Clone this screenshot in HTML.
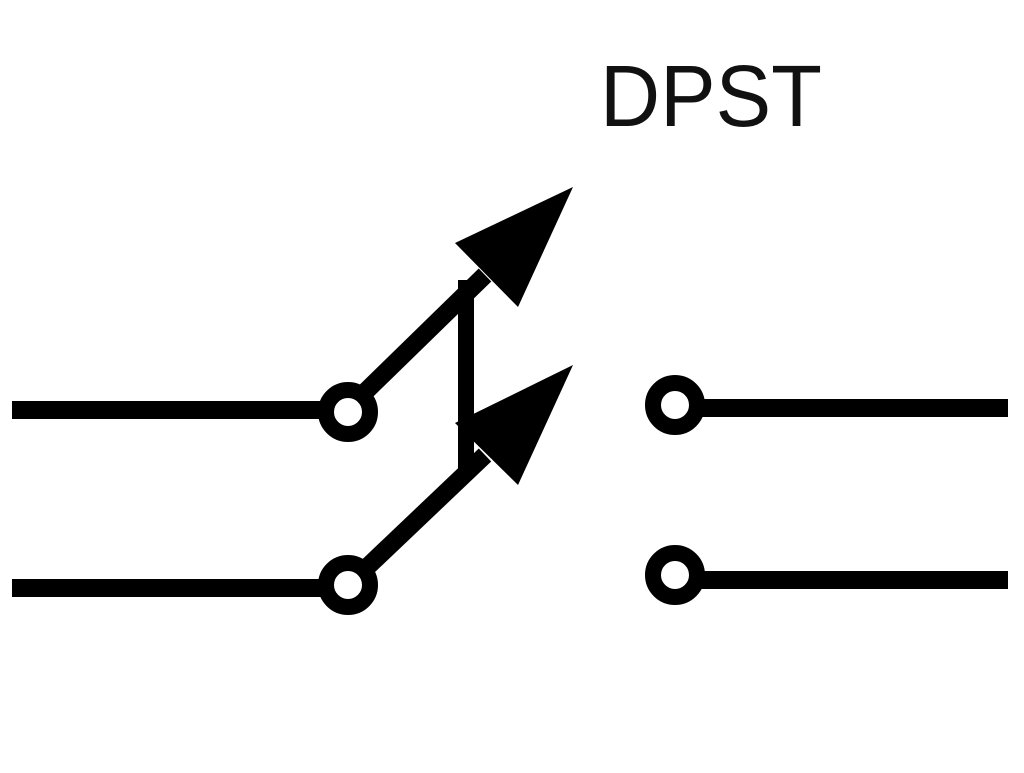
<!DOCTYPE html>
<html><head><style>html,body{margin:0;padding:0;background:#fff}</style></head>
<body>
<svg width="1024" height="768" viewBox="0 0 1024 768" xmlns="http://www.w3.org/2000/svg">
<rect width="1024" height="768" fill="#fff"/>
<text x="600" y="126" font-family="Liberation Sans, sans-serif" font-size="87" textLength="222" lengthAdjust="spacingAndGlyphs" fill="#111">DPST</text>
<g stroke="#000" stroke-width="18" fill="none">
<line x1="12" y1="410" x2="326" y2="410"/>
<line x1="12" y1="588" x2="326" y2="588"/>
<line x1="698" y1="408" x2="1008" y2="408"/>
<line x1="698" y1="580" x2="1008" y2="580"/>
<line x1="362" y1="395" x2="485" y2="275"/>
<line x1="362" y1="572" x2="485" y2="455"/>
<line x1="466" y1="280" x2="466" y2="470" stroke-width="16"/>
</g>
<g stroke="#000" stroke-width="16" fill="#fff">
<circle cx="348" cy="412" r="22"/>
<circle cx="348" cy="585" r="22"/>
<circle cx="675" cy="405" r="22"/>
<circle cx="675" cy="575" r="22"/>
</g>
<polygon points="573,187 455,243 518,307" fill="#000"/>
<polygon points="573,365 455,423 518,485" fill="#000"/>
</svg>
</body></html>
